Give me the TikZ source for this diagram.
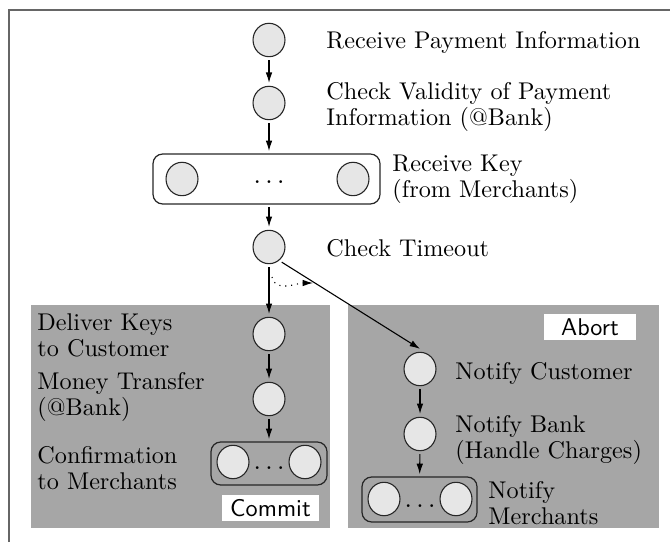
\documentclass[tikz,border=0pt]{standalone}
\usepackage{fontspec}
\usetikzlibrary{shapes.geometric,arrows.meta}
\definecolor{panelgrey}{HTML}{A6A6A6}
\definecolor{nodegrey}{HTML}{E6E6E6}
\begin{document}
\begin{tikzpicture}[x=0.4132pt,y=-0.4132pt,
  state/.style={ellipse,draw=black!85,fill=nodegrey,line width=0.45pt,minimum width=13.2pt,minimum height=13.8pt,inner sep=0pt,outer sep=1.4pt},
  group/.style={draw=black!85,rounded corners=4pt,line width=0.5pt,inner sep=0pt,outer sep=1.2pt},
  txt/.style={anchor=west,inner sep=0pt,align=left,font=\fontsize{10pt}{10.7pt}\selectfont},
  dotsn/.style={inner sep=0pt,font=\fontsize{10.5pt}{12pt}\selectfont},
  flow/.style={-{Latex[length=4.3pt,width=2.7pt]},line width=0.45pt},
  panel/.style={fill=panelgrey,draw=none,inner sep=0pt,anchor=north west},
  tag/.style={fill=white,inner sep=0pt,font=\sffamily\fontsize{10pt}{12pt}\selectfont},
  frame/.style={draw=black!60,line width=0.6pt}
]
\useasboundingbox (0,0) rectangle (670,542);
\draw[frame] (9,542) -- (9,10) -- (670,10);

% panels
\node[panel,minimum width={299*0.4132pt},minimum height={223*0.4132pt}] (commitpanel) at (31,305) {};
\node[panel,minimum width={310*0.4132pt},minimum height={223*0.4132pt}] (abortpanel) at (348,305) {};
\node[tag,minimum width={92*0.4132pt},minimum height={26*0.4132pt}] (aborttag) at (590,327) {Abort};
\node[tag,minimum width={97*0.4132pt},minimum height={26*0.4132pt}] (committag) at (270.5,508) {Commit};

% groups
\node[group,minimum width={227*0.4132pt},minimum height={50*0.4132pt}] (box1) at (266.5,179) {};
\node[group,minimum width={116*0.4132pt},minimum height={43*0.4132pt}] (box2) at (269,463.5) {};
\node[group,minimum width={115*0.4132pt},minimum height={45*0.4132pt}] (box3) at (419.5,499.5) {};

% states
\node[state] (n1) at (269,40) {};
\node[state] (n2) at (269,103) {};
\node[state] (b1l) at (182,179) {};
\node[state] (b1r) at (353,179) {};
\node[dotsn] (d1) at (269,182) {$\ldots$};
\node[state] (n4) at (269,247) {};
\node[state] (n5) at (269,334) {};
\node[state] (n6) at (269,399) {};
\node[state] (b2l) at (233,462) {};
\node[state] (b2r) at (305,462) {};
\node[dotsn] (d2) at (269,468) {$\ldots$};
\node[state] (n7) at (420,369) {};
\node[state] (n8) at (420,434) {};
\node[state] (b3l) at (384,499) {};
\node[state] (b3r) at (456,499) {};
\node[dotsn] (d3) at (420,506) {$\ldots$};

% labels
\node[txt] (t1) at (326,42) {Receive Payment Information};
\node[txt] (t2) at (326,107) {Check Validity of Payment\\Information (@Bank)};
\node[txt] (t3) at (392,179) {Receive Key\\(from Merchants)};
\node[txt] (t4) at (326,248) {Check Timeout};
\node[txt] (t5) at (37,335) {Deliver Keys\\to Customer};
\node[txt] (t6) at (37,397) {Money Transfer\\(@Bank)};
\node[txt] (t7) at (37,468) {Confirmation\\to Merchants};
\node[txt] (t8) at (455,373) {Notify Customer};
\node[txt] (t9) at (455,440) {Notify Bank\\(Handle Charges)};
\node[txt] (t10) at (488,503) {Notify\\Merchants};

% connectors
\draw[flow] (n1) -- (n2);
\draw[flow] (n2) -- (n2 |- box1.north);
\draw[flow] (box1.south -| n4) -- (n4);
\draw[flow] (n4) -- (n5);
\draw[flow] (n5) -- (n6);
\draw[flow] (n6) -- (box2);
\draw[flow] (n4.-50) -- (n7.north);
\draw[flow] (n7) -- (n8);
\draw[flow] (n8) -- (box3);
\coordinate (c1) at (272,277);
\coordinate (c2) at (313,283);
\draw[flow,dotted] (c1) to[out=-80,in=180] (c2);
\end{tikzpicture}
\end{document}
